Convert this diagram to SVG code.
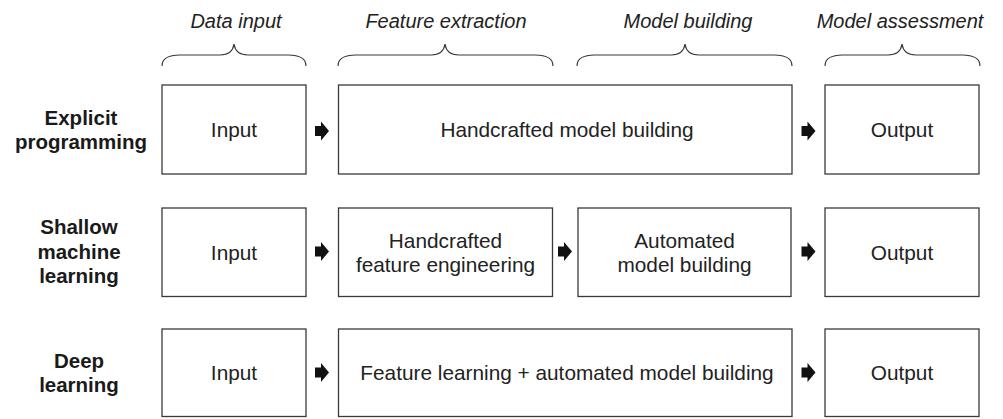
<svg xmlns="http://www.w3.org/2000/svg" width="1003" height="419" viewBox="0 0 1003 419">
<style>
  .box { fill: #ffffff; stroke: #3a3a3a; stroke-width: 1.3; }
  .brace { fill: none; stroke: #3a3a3a; stroke-width: 1.2; }
  .t { font-family: "Liberation Sans", Arial, Helvetica, sans-serif; font-size: 20.8px; fill: #222222; text-anchor: middle; }
  .h { font-family: "Liberation Sans", Arial, Helvetica, sans-serif; font-size: 20px; font-style: italic; fill: #222222; text-anchor: middle; }
  .r { font-family: "Liberation Sans", Arial, Helvetica, sans-serif; font-size: 20.5px; font-weight: bold; fill: #1a1a1a; text-anchor: middle; }
  .arr { fill: #111111; }
</style>
<defs>
  <path id="arrow" d="M -7,-5 L -1,-5 L -1,-9.5 L 7,0 L -1,9.5 L -1,5 L -7,5 Z"/>
</defs>
<rect width="1003" height="419" fill="#ffffff"/>

<g id="headers">
  <text class="h" x="236" y="28">Data input</text>
  <text class="h" x="446" y="28">Feature extraction</text>
  <text class="h" x="688" y="28">Model building</text>
  <text class="h" x="900" y="28">Model assessment</text>
  <path class="brace" d="M 162,66 C 162,59 168,55 180,55 L 220,55 C 228,55 233,51 234,44 C 235,51 240,55 248,55 L 288,55 C 300,55 306,59 306,66"/>
  <path class="brace" d="M 338,66 C 338,59 344,55 356,55 L 431,55 C 439,55 444,51 445,44 C 446,51 451,55 459,55 L 535,55 C 547,55 553,59 553,66"/>
  <path class="brace" d="M 577,66 C 577,59 583,55 595,55 L 671,55 C 679,55 684,51 685,44 C 686,51 691,55 699,55 L 774,55 C 786,55 792,59 792,66"/>
  <path class="brace" d="M 825,66 C 825,59 831,55 843,55 L 888,55 C 896,55 901,51 902,44 C 903,51 908,55 916,55 L 962,55 C 974,55 980,59 980,66"/>
</g>

<g id="row-labels">
  <text class="r" x="81" y="125">Explicit</text>
  <text class="r" x="81" y="149">programming</text>
  <text class="r" x="79" y="234">Shallow</text>
  <text class="r" x="79" y="258.5">machine</text>
  <text class="r" x="79" y="283">learning</text>
  <text class="r" x="79" y="368">Deep</text>
  <text class="r" x="79" y="392">learning</text>
</g>

<g id="r1-input"><rect class="box" x="162" y="85" width="144" height="89"/><text class="t" x="234" y="137">Input</text></g>
<g id="r1-handcrafted"><rect class="box" x="338.5" y="85" width="453.5" height="89"/><text class="t" x="567" y="137">Handcrafted model building</text></g>
<g id="r1-output"><rect class="box" x="825" y="85" width="154" height="89"/><text class="t" x="902" y="137">Output</text></g>

<g id="r2-input"><rect class="box" x="162" y="208" width="144" height="88.5"/><text class="t" x="234" y="259.5">Input</text></g>
<g id="r2-feature"><rect class="box" x="338.5" y="208" width="214" height="88.5"/><text class="t" x="445.5" y="248">Handcrafted</text><text class="t" x="445.5" y="271.5">feature engineering</text></g>
<g id="r2-model"><rect class="box" x="578" y="208" width="213" height="88.5"/><text class="t" x="684.5" y="248">Automated</text><text class="t" x="684.5" y="271.5">model building</text></g>
<g id="r2-output"><rect class="box" x="825" y="208" width="154" height="88.5"/><text class="t" x="902" y="259.5">Output</text></g>

<g id="r3-input"><rect class="box" x="162" y="329" width="144" height="87.5"/><text class="t" x="234" y="380">Input</text></g>
<g id="r3-feature"><rect class="box" x="338.5" y="329" width="453.5" height="87.5"/><text class="t" x="567" y="380">Feature learning + automated model building</text></g>
<g id="r3-output"><rect class="box" x="825" y="329" width="154" height="87.5"/><text class="t" x="902" y="380">Output</text></g>

<g id="connectors" class="arr">
  <use href="#arrow" x="322" y="131"/>
  <use href="#arrow" x="808.5" y="131"/>
  <use href="#arrow" x="322" y="251.5"/>
  <use href="#arrow" x="565" y="251.5"/>
  <use href="#arrow" x="808.5" y="251.5"/>
  <use href="#arrow" x="322" y="372.5"/>
  <use href="#arrow" x="808.5" y="372.5"/>
</g>
</svg>
